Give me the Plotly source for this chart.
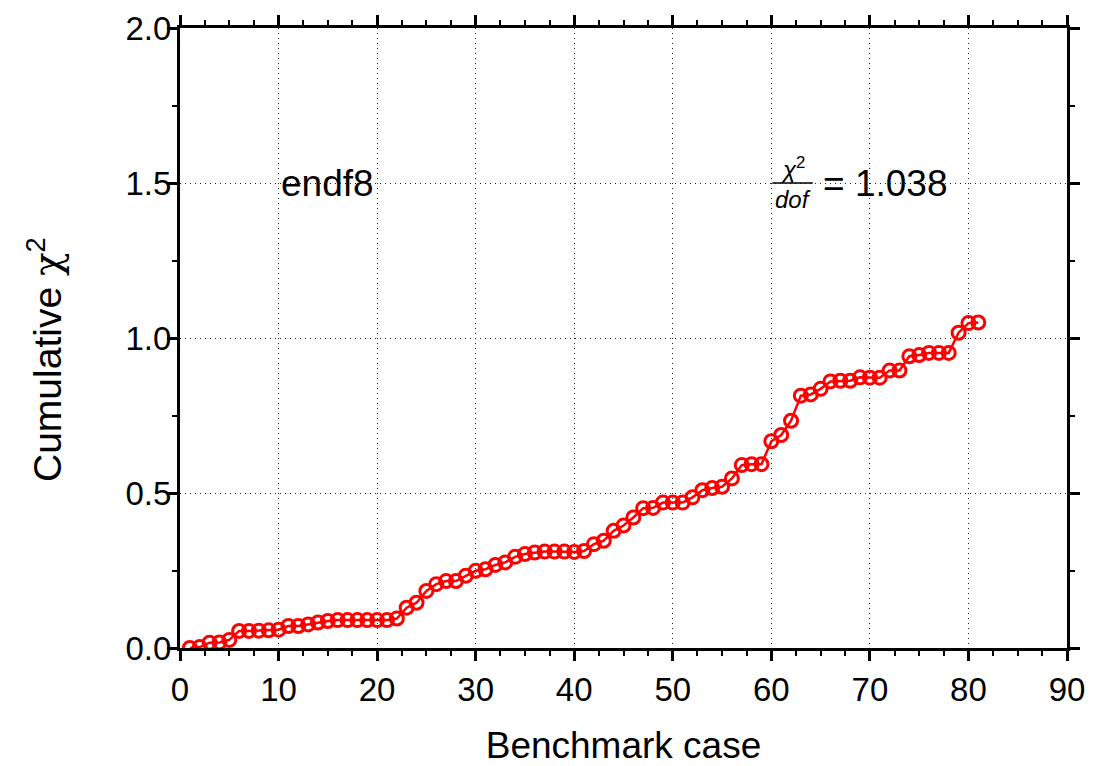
import plotly.graph_objects as go

# Benchmark case index and cumulative chi-square per case
cases = list(range(1, 82))
cum_chi2 = [
    0.000, 0.003, 0.017, 0.018, 0.026, 0.055, 0.055, 0.056, 0.057, 0.059,
    0.071, 0.071, 0.076, 0.082, 0.087, 0.090, 0.090, 0.090, 0.090, 0.090,
    0.090, 0.095, 0.130, 0.146, 0.184, 0.206, 0.216, 0.216, 0.233, 0.249,
    0.254, 0.268, 0.276, 0.294, 0.303, 0.308, 0.311, 0.311, 0.311, 0.310,
    0.313, 0.335, 0.346, 0.378, 0.395, 0.421, 0.451, 0.452, 0.469, 0.469,
    0.469, 0.486, 0.509, 0.516, 0.520, 0.547, 0.590, 0.593, 0.593, 0.667,
    0.687, 0.733, 0.814, 0.818, 0.836, 0.860, 0.862, 0.862, 0.873, 0.872,
    0.872, 0.895, 0.895, 0.941, 0.945, 0.952, 0.952, 0.952, 1.017, 1.048,
    1.050,
]

library_name = "endf8"
chi2_per_dof = 1.038

x_ticks = list(range(0, 91, 10))
y_ticks = [0.0, 0.5, 1.0, 1.5, 2.0]
y_tick_text = ["0.0", "0.5", "1.0", "1.5", "2.0"]

FONT = "Liberation Sans, Arial, Helvetica, sans-serif"

fig = go.Figure()
fig.add_trace(go.Scatter(
    x=cases, y=cum_chi2, mode="lines+markers",
    line=dict(color="#ff0000", width=2.5),
    marker=dict(symbol="circle-open", size=13, color="#ff0000",
                line=dict(width=3, color="#ff0000")),
    showlegend=False,
))

axis_common = dict(
    showline=True, linecolor="black", linewidth=3, mirror="allticks",
    ticks="outside", ticklen=10, tickwidth=2.5, tickcolor="black",
    showgrid=True, gridcolor="#222222", gridwidth=1, griddash="1px,4px",
    zeroline=False, automargin=False,
    tickfont=dict(family=FONT, size=33, color="black"),
)

fig.update_xaxes(
    range=[0, 90], tickvals=x_ticks,
    minor=dict(ticks="outside", ticklen=5, tickwidth=2, tickcolor="black", dtick=2.5, showgrid=False),
    title=dict(text="Benchmark case", font=dict(family=FONT, size=37, color="black"), standoff=28),
    **axis_common,
)
fig.update_yaxes(
    range=[0, 2], tickvals=y_ticks, ticktext=y_tick_text,
    minor=dict(ticks="outside", ticklen=5, tickwidth=2, tickcolor="black", dtick=0.25, showgrid=False),
    ticklabelstandoff=-11,
    **axis_common,
)

# Vertical axis title
fig.add_annotation(xref="paper", yref="paper", x=(45 - 180) / 887, y=0.4645,
                   text="Cumulative <span style='font-family:DejaVu Serif'>χ</span><sup>2</sup>",
                   textangle=-90, showarrow=False, xanchor="center", yanchor="middle",
                   font=dict(family=FONT, size=39, color="black"))

# Library label
fig.add_annotation(x=10, y=1.5, xref="x", yref="y", text=library_name,
                   showarrow=False, xanchor="left", yanchor="middle",
                   font=dict(family=FONT, size=37, color="black"))

# chi^2 / dof fraction
frac_left, frac_right = 60.1, 64.2
fig.add_shape(type="line", xref="x", yref="y", x0=frac_left, x1=frac_right,
              y0=1.5, y1=1.5, line=dict(color="black", width=1.5))
fig.add_annotation(x=(frac_left + frac_right) / 2, y=1.5, xref="x", yref="y",
                   text="<i>χ</i><sup>2</sup>", showarrow=False,
                   xanchor="center", yanchor="bottom", yshift=-2,
                   font=dict(family=FONT, size=24, color="black"))
fig.add_annotation(x=(frac_left + frac_right) / 2, y=1.5, xref="x", yref="y",
                   text="<i>dof</i>", showarrow=False,
                   xanchor="center", yanchor="top", yshift=-1,
                   font=dict(family=FONT, size=24, color="black"))
fig.add_annotation(x=65.0, y=1.5, xref="x", yref="y",
                   text=f"= {chi2_per_dof:.3f}", showarrow=False,
                   xanchor="left", yanchor="middle",
                   font=dict(family=FONT, size=37, color="black"))

fig.update_layout(
    width=1120, height=766,
    margin=dict(l=180, r=53, t=28, b=118),
    paper_bgcolor="white", plot_bgcolor="white",
)

fig.write_html("out.html")
